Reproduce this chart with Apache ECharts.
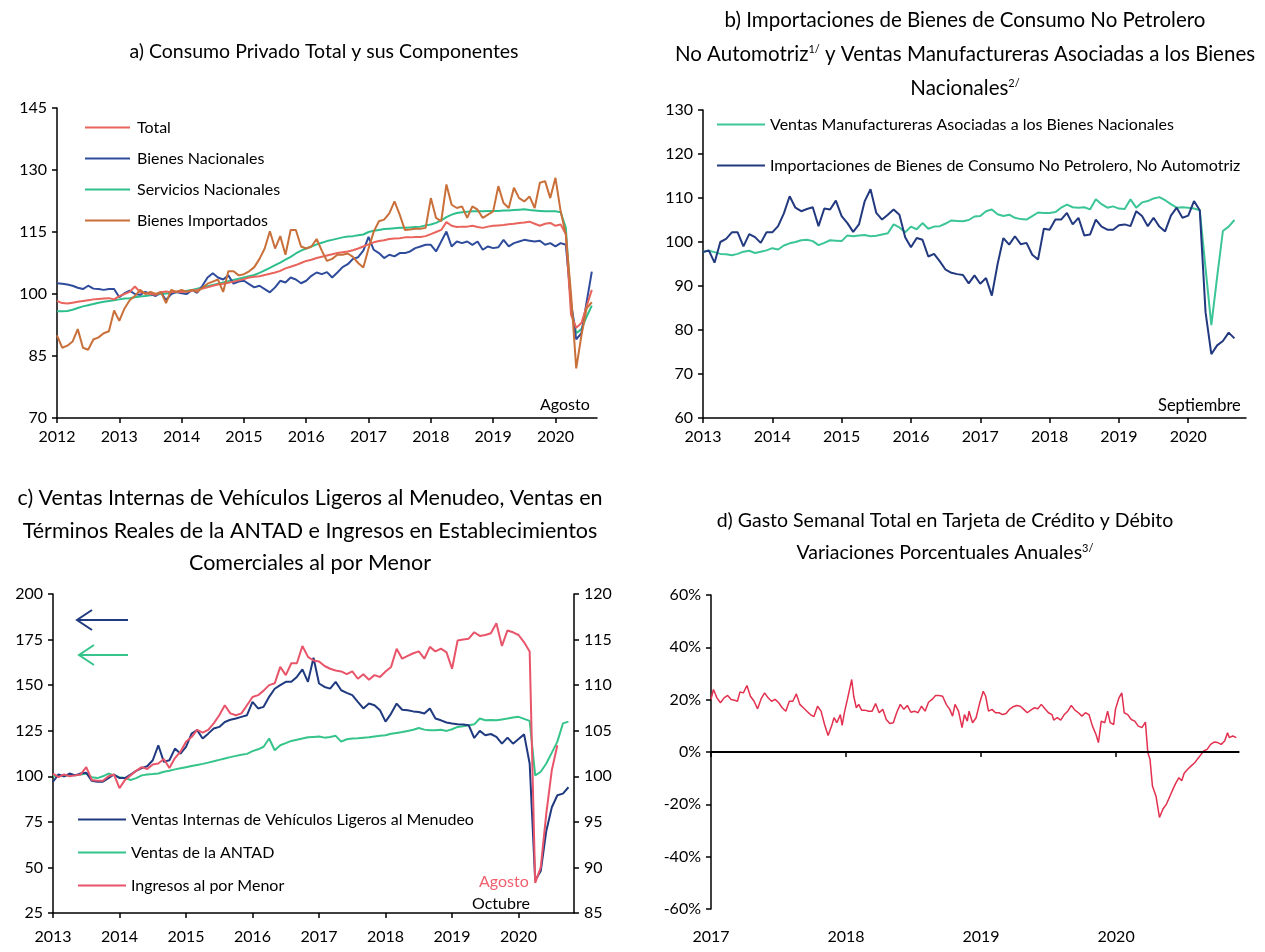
<!DOCTYPE html>
<html>
<head>
<meta charset="UTF-8">
<title>Consumo privado</title>
<script src="https://cdn.jsdelivr.net/npm/echarts@6.0.0/dist/echarts.min.js"></script>
<style>html,body{margin:0;background:#fff;}</style>
</head>
<body>
<div id="chart" style="width:1265px;height:952px;"></div>
<script>
var FONT = 'Lato, "Liberation Sans", sans-serif';

// etiquetas mensuales 'AAAA-MM'
function meses(a0, a1, mFin) {
  var out = [];
  for (var a = a0; a <= a1; a++) {
    for (var m = 1; m <= 12; m++) {
      if (a === a1 && m > mFin) break;
      out.push(a + '-' + (m < 10 ? '0' + m : m));
    }
  }
  return out;
}
var mesesA = meses(2012, 2020, 9);
var mesesB = meses(2013, 2020, 11);
var mesesC = meses(2013, 2020, 11);

// a) Consumo privado, ene 2012 - ago 2020
var total = [
  98.3, 97.8, 97.7, 97.9, 98.1, 98.3, 98.5, 98.7, 98.8, 98.9, 99.0, 98.7,
  99.5, 100.0, 100.5, 101.8, 100.5, 100.2, 100.0, 99.8, 100.4, 100.6, 100.4, 100.6,
  100.5, 100.6, 100.8, 101.0, 101.3, 101.6, 102.0, 102.3, 102.5, 102.7, 103.0, 103.3,
  103.6, 104.0, 104.2, 104.3, 104.6, 104.9, 105.2, 105.6, 106.2, 106.6, 107.0, 107.5,
  108.0, 108.3, 108.7, 109.0, 109.3, 109.6, 109.9, 110.1, 110.3, 110.6, 111.0, 111.5,
  112.0, 112.5, 112.8, 113.0, 113.3, 113.4, 113.5, 113.7, 113.7, 113.8, 113.8, 114.0,
  114.5, 115.0, 115.5, 117.4, 116.5, 116.2, 116.3, 116.3, 116.5, 116.2, 116.0, 116.3,
  116.5, 116.6, 116.7, 116.9, 117.0, 117.2, 117.3, 117.5, 117.0, 116.5, 117.0, 117.2,
  116.5, 116.8, 114.5, 95.0, 91.8, 93.0, 97.0, 101.0
];
var bienesNac = [
  102.6, 102.5, 102.3, 102.0, 101.5, 101.2, 102.0, 101.3, 101.2, 101.0, 101.2, 101.2,
  99.2, 100.2, 100.8, 100.0, 99.8, 100.5, 100.0, 99.5, 100.5, 98.5, 100.0, 100.5,
  100.2, 100.0, 101.0, 100.3, 102.0, 104.0, 105.0, 104.0, 103.5, 104.5, 102.5, 103.0,
  103.2, 102.4, 101.6, 102.0, 101.2, 100.4, 101.6, 103.2, 102.8, 104.0, 103.5, 102.6,
  103.2, 104.4, 105.2, 104.8, 105.3, 104.0, 105.2, 106.5, 107.2, 108.5, 108.9, 110.5,
  113.8, 110.7, 109.9, 108.7, 109.5, 109.1, 109.9, 109.9, 110.3, 111.1, 111.5, 111.9,
  111.9, 110.3, 112.7, 115.1, 111.5, 112.7, 112.3, 112.7, 111.9, 112.7, 110.7, 111.5,
  111.1, 111.3, 113.1, 111.5, 112.3, 112.7, 113.1, 112.9, 112.7, 112.9, 111.9, 112.3,
  111.5, 112.3, 111.9, 98.0, 89.0, 90.5, 98.0, 105.4
];
var serviciosNac = [
  95.8, 95.8, 95.9, 96.2, 96.6, 97.0, 97.3, 97.6, 97.9, 98.1, 98.3, 98.5,
  98.7, 98.9, 99.0, 99.2, 99.4, 99.5, 99.7, 99.8, 100.0, 100.1, 100.2, 100.4,
  100.6, 100.8, 101.0, 101.3, 101.6, 101.9, 102.2, 102.5, 102.8, 103.1, 103.4, 103.7,
  104.0, 104.3, 104.6, 105.1, 105.7, 106.3, 107.0, 107.6, 108.3, 109.0, 109.8, 110.5,
  111.0, 111.5, 112.0, 112.4, 112.8, 113.1, 113.4, 113.7, 113.9, 114.0, 114.2, 114.4,
  115.0, 115.3, 115.5, 115.7, 115.8, 115.9, 116.0, 116.0, 116.1, 116.2, 116.3, 116.6,
  116.8, 117.2, 117.8, 118.6, 119.2, 119.6, 119.8, 119.9, 120.0, 120.0, 120.0, 120.1,
  120.1, 120.1, 120.2, 120.2, 120.3, 120.4, 120.5, 120.3, 120.2, 120.1, 120.0, 120.0,
  120.0, 119.8, 116.0, 97.0, 90.5, 91.5, 94.5, 97.2
];
var bienesImp = [
  90.0, 87.0, 87.5, 88.5, 91.5, 87.0, 86.5, 89.0, 89.5, 90.5, 91.0, 96.0,
  93.5, 96.5, 98.5, 99.5, 101.0, 100.0, 100.5, 100.0, 100.5, 97.8, 101.0, 100.5,
  101.0, 100.5, 101.0, 100.5, 101.5, 102.5, 103.0, 103.5, 100.5, 105.5, 105.5, 104.5,
  104.8, 105.5, 106.5, 108.5, 111.0, 115.2, 111.0, 114.0, 109.5, 115.5, 115.5, 111.5,
  111.0, 111.5, 113.3, 110.5, 108.0, 108.5, 109.5, 109.5, 109.8, 109.0, 107.5, 106.4,
  111.0, 115.1, 117.6, 118.0, 119.5, 122.4, 119.2, 115.5, 115.6, 115.8, 115.8, 116.0,
  123.2, 118.4, 117.6, 126.5, 121.6, 120.8, 121.2, 118.4, 121.2, 120.4, 118.4, 119.2,
  120.0, 126.1, 122.0, 120.8, 125.7, 123.2, 122.4, 123.6, 120.8, 126.9, 127.3, 123.2,
  128.1, 120.0, 114.3, 100.0, 82.0, 90.0, 96.5, 98.0
];

// b) ene 2013 - sep 2020
var ventasManuf = [
  97.8, 98.0, 97.7, 97.3, 97.2, 97.0, 97.3, 97.8, 98.0, 97.5, 97.8, 98.1,
  98.6, 98.3, 99.2, 99.7, 100.0, 100.4, 100.5, 100.2, 99.3, 99.8, 100.4, 100.3,
  100.2, 101.5, 101.3, 101.5, 101.6, 101.3, 101.4, 101.7, 102.0, 104.0, 103.3, 102.2,
  103.5, 102.9, 104.3, 103.0, 103.5, 103.6, 104.2, 104.9, 104.8, 104.7, 105.0, 105.8,
  105.9, 107.0, 107.4, 106.3, 105.9, 106.2, 105.5, 105.2, 105.1, 105.9, 106.7, 106.6,
  106.6, 106.8, 107.8, 108.5, 107.9, 107.8, 107.9, 107.4, 109.7, 108.6, 107.8, 108.1,
  107.6, 107.5, 109.7, 107.8, 109.0, 109.3, 109.9, 110.2, 109.5, 108.6, 107.8, 107.9,
  107.8, 107.6, 107.2, 94.0, 81.1, 92.0, 102.5, 103.5, 105.0
];
var importaciones = [
  97.7, 98.1, 95.3, 100.0, 100.7, 102.2, 102.2, 99.0, 101.8, 101.1, 99.8, 102.2,
  102.2, 103.6, 106.5, 110.4, 107.8, 107.0, 107.5, 107.9, 103.6, 107.6, 107.4, 109.4,
  105.9, 104.3, 102.3, 104.0, 109.3, 112.0, 106.6, 105.1, 106.2, 107.4, 106.2, 101.1,
  98.8, 100.9, 100.5, 96.7, 97.3, 95.6, 93.7, 93.0, 92.7, 92.5, 90.6, 92.4,
  90.5, 91.8, 87.8, 95.0, 100.9, 99.4, 101.3, 99.5, 99.8, 97.1, 96.0, 103.0,
  102.8, 105.1, 105.1, 106.6, 104.0, 105.5, 101.5, 101.7, 105.1, 103.5, 102.8, 102.8,
  103.8, 104.0, 103.6, 107.0, 105.9, 103.6, 105.5, 103.5, 102.4, 106.0, 107.8, 105.5,
  106.0, 109.3, 107.2, 84.0, 74.5, 76.5, 77.5, 79.4, 78.1
];

// c) ene 2013 - oct 2020 (ingresos hasta ago 2020, eje derecho)
var vehiculos = [
  97.0, 101.0, 100.0, 101.5, 100.5, 101.5, 102.0, 97.5, 97.0, 97.0, 99.0, 101.0,
  99.0, 99.0, 101.0, 103.0, 104.5, 105.5, 108.8, 117.0, 107.9, 108.8, 115.2, 112.4,
  116.1, 123.4, 125.3, 120.7, 123.4, 126.2, 127.1, 129.8, 131.0, 131.7, 132.6, 133.5,
  140.8, 137.2, 138.1, 143.6, 148.0, 150.0, 151.8, 151.8, 154.5, 158.6, 151.8, 165.0,
  150.9, 149.0, 148.1, 151.8, 147.2, 145.8, 144.5, 140.8, 137.2, 139.9, 139.0, 136.2,
  130.0, 134.4, 139.9, 136.5, 136.2, 135.6, 135.3, 134.4, 137.2, 131.7, 130.7, 129.5,
  128.9, 128.6, 128.4, 128.0, 121.0, 124.9, 122.5, 123.2, 121.6, 117.9, 121.2, 117.9,
  120.5, 123.0, 107.0, 42.9, 48.0, 70.0, 83.0, 89.6, 90.5, 94.0
];
var antad = [
  100.0, 100.5, 100.0, 101.0, 100.5, 101.0, 101.5, 99.5, 99.0, 100.0, 101.5, 100.5,
  99.5, 99.0, 98.0, 99.0, 100.5, 101.0, 101.2, 101.5, 102.5, 103.0, 103.8, 104.4,
  105.0, 105.6, 106.2, 106.8, 107.5, 108.2, 109.0, 109.8, 110.5, 111.2, 111.8, 112.3,
  113.8, 114.8, 116.2, 120.7, 114.3, 117.0, 118.2, 119.4, 120.0, 120.7, 121.4, 121.6,
  121.8, 121.2, 121.6, 122.2, 119.0, 120.3, 120.7, 120.9, 121.2, 121.4, 121.8, 122.2,
  122.5, 123.3, 123.8, 124.3, 124.9, 125.5, 126.5, 125.6, 125.3, 125.3, 125.5, 124.9,
  125.8, 127.1, 127.5, 128.0, 128.5, 131.7, 130.7, 130.9, 130.7, 131.2, 131.7, 132.3,
  132.6, 131.5, 130.4, 100.5, 102.5, 107.0, 113.0, 119.0, 129.0, 130.0
];
var ingresos = [
  100.3, 99.9, 100.2, 100.0, 100.1, 100.2, 101.0, 99.6, 99.5, 99.5, 100.0, 100.2,
  98.7, 99.6, 100.1, 100.6, 101.0, 100.8, 101.3, 101.4, 101.9, 100.9, 102.0, 102.7,
  103.8, 104.3, 105.1, 104.8, 105.1, 105.8, 106.7, 107.8, 106.9, 106.7, 106.9, 107.8,
  108.7, 108.9, 109.4, 110.0, 110.2, 112.0, 111.1, 112.4, 112.4, 114.3, 113.1, 112.7,
  112.6, 112.1, 111.8, 111.6, 111.5, 111.2, 111.5, 110.7, 111.2, 110.6, 111.1, 110.9,
  111.5, 112.0, 114.0, 112.9, 113.2, 113.5, 113.7, 112.9, 114.2, 113.7, 114.0, 113.6,
  111.8, 114.9, 115.0, 115.1, 115.8, 115.4, 115.5, 115.7, 116.8, 114.3, 116.0, 115.8,
  115.5, 114.7, 113.7, 88.3, 90.0, 95.9, 100.7, 103.4
];

// d) gasto semanal, fecha en años decimales y variación anual (%)
var gastoFecha = [
  2017.000, 2017.018, 2017.044, 2017.070, 2017.097, 2017.123, 2017.149, 2017.175, 2017.196, 2017.214,
  2017.240, 2017.266, 2017.292, 2017.319, 2017.345, 2017.371, 2017.397, 2017.423, 2017.449, 2017.475,
  2017.501, 2017.527, 2017.554, 2017.580, 2017.606, 2017.632, 2017.658, 2017.684, 2017.710, 2017.736,
  2017.762, 2017.789, 2017.815, 2017.841, 2017.867, 2017.893, 2017.911, 2017.932, 2017.958, 2017.971,
  2017.990, 2018.010, 2018.031, 2018.042, 2018.057, 2018.076, 2018.094, 2018.115, 2018.141, 2018.167,
  2018.193, 2018.219, 2018.245, 2018.272, 2018.298, 2018.324, 2018.350, 2018.376, 2018.402, 2018.428,
  2018.454, 2018.480, 2018.507, 2018.533, 2018.559, 2018.585, 2018.611, 2018.637, 2018.663, 2018.689,
  2018.715, 2018.742, 2018.768, 2018.789, 2018.807, 2018.833, 2018.859, 2018.877, 2018.898, 2018.911,
  2018.937, 2018.963, 2018.990, 2019.016, 2019.034, 2019.055, 2019.081, 2019.107, 2019.133, 2019.159,
  2019.185, 2019.211, 2019.238, 2019.264, 2019.290, 2019.316, 2019.342, 2019.368, 2019.394, 2019.420,
  2019.446, 2019.473, 2019.499, 2019.525, 2019.538, 2019.564, 2019.590, 2019.616, 2019.642, 2019.668,
  2019.695, 2019.721, 2019.747, 2019.773, 2019.799, 2019.825, 2019.851, 2019.869, 2019.890, 2019.916,
  2019.937, 2019.956, 2019.982, 2019.995, 2020.021, 2020.042, 2020.060, 2020.086, 2020.112, 2020.138,
  2020.164, 2020.191, 2020.217, 2020.235, 2020.251, 2020.269, 2020.295, 2020.321, 2020.347, 2020.373,
  2020.399, 2020.426, 2020.444, 2020.465, 2020.486, 2020.504, 2020.530, 2020.556, 2020.582, 2020.601,
  2020.621, 2020.648, 2020.674, 2020.700, 2020.726, 2020.752, 2020.778, 2020.804, 2020.825, 2020.838,
  2020.864, 2020.890
];
var gastoVar = [
  20.1, 23.9, 20.7, 18.8, 20.7, 21.6, 20.1, 19.8, 19.4, 22.9,
  22.6, 25.4, 21.3, 19.4, 16.5, 20.3, 22.6, 20.7, 19.4, 20.1,
  18.8, 16.9, 15.6, 19.4, 19.4, 22.2, 18.2, 16.9, 15.6, 14.3,
  13.5, 17.5, 15.6, 10.5, 6.3, 9.9, 13.1, 11.2, 14.3, 10.2,
  15.6, 20.1, 25.1, 27.7, 21.3, 16.9, 18.2, 16.0, 16.0, 15.6,
  15.6, 18.5, 15.0, 16.3, 12.4, 10.9, 11.2, 15.2, 18.2, 16.3,
  17.8, 15.2, 15.6, 15.0, 17.5, 15.6, 19.0, 20.1, 21.6, 21.6,
  21.3, 18.2, 16.3, 13.7, 18.2, 15.6, 9.3, 14.3, 11.8, 15.6,
  11.2, 13.1, 18.8, 23.2, 21.3, 15.6, 16.3, 15.0, 15.0, 14.3,
  14.7, 16.3, 17.3, 17.8, 17.5, 16.3, 15.0, 16.0, 16.9, 16.5,
  18.2, 16.5, 15.0, 14.3, 12.2, 13.1, 12.2, 14.3, 15.6, 17.8,
  16.0, 15.0, 13.7, 15.0, 14.3, 9.9, 6.7, 3.6, 11.8, 11.2,
  15.6, 11.2, 10.5, 16.3, 20.7, 22.6, 15.0, 14.3, 12.4, 11.8,
  9.9, 9.3, 11.4, -0.3, -2.8, -13.0, -16.8, -25.0, -21.8, -19.9,
  -16.8, -13.6, -11.7, -9.8, -11.0, -8.1, -6.6, -5.3, -4.1, -2.8,
  -1.5, 0.4, 1.0, 2.9, 3.8, 3.6, 2.9, 4.2, 7.4, 5.5,
  6.1, 5.5
];

var chart = echarts.init(document.getElementById('chart'));

var negro = '#000';
var eje = {lineStyle: {color: negro, width: 1.5}};
var tick = {length: 5, lineStyle: {color: negro, width: 1.5}};
var etiqueta = {color: negro, fontSize: 16, fontFamily: FONT, margin: 10};

function enero(i, v) { return v.slice(5) === '01'; }

function ejeX(grid, cats, margen) {
  return {
    type: 'category', gridIndex: grid, data: cats, boundaryGap: false,
    axisLine: eje,
    axisTick: Object.assign({}, tick, {interval: enero}),
    axisLabel: Object.assign({}, etiqueta, {margin: margen, interval: enero, formatter: function (v) { return v.slice(0, 4); }}),
    splitLine: {show: false}
  };
}
function ejeY(grid, min, max, step, valores, pos) {
  return {
    type: 'value', gridIndex: grid, min: min, max: max, interval: step,
    position: pos || 'left',
    axisLine: Object.assign({show: true}, eje),
    axisTick: Object.assign({show: true, customValues: valores}, tick),
    axisLabel: Object.assign({customValues: valores}, etiqueta),
    splitLine: {show: false}
  };
}
function linea(nombre, xi, yi, datos, color, ancho) {
  return {
    name: nombre, type: 'line', xAxisIndex: xi, yAxisIndex: yi, data: datos,
    symbol: 'none', color: color, lineStyle: {color: color, width: ancho || 2},
    z: 3
  };
}
function leyenda(nombres, left, top, ancho, gap, pad) {
  return {
    data: nombres, orient: 'vertical', left: left, top: top,
    itemWidth: ancho, itemHeight: 2, itemGap: gap, icon: 'rect',
    selectedMode: false,
    textStyle: {color: negro, fontSize: 16, fontFamily: FONT, lineHeight: 17, padding: [0, 0, 0, pad]}
  };
}
function texto(x, y, t, extra) {
  return {
    type: 'text', x: x, y: y, silent: true,
    style: Object.assign({text: t, fill: negro, fontSize: 16, fontFamily: FONT}, extra || {})
  };
}
var sup = {s: {fontSize: 11, fontFamily: FONT, padding: [0, 0, 10, 0]}};
function titulo(x, y, t, lh, tam) {
  return texto(x, y, t, {fontSize: tam, align: 'center', verticalAlign: 'top', lineHeight: lh, rich: sup});
}

var option = {
  animation: false,
  backgroundColor: '#fff',
  grid: [
    {left: 57, top: 108, width: 540, height: 310},
    {left: 703, top: 110, width: 543, height: 308},
    {left: 53, top: 594, width: 521, height: 319},
    {left: 711, top: 595, width: 528, height: 314}
  ],
  xAxis: [
    ejeX(0, mesesA, 11),
    ejeX(1, mesesB, 11),
    ejeX(2, mesesC, 16),
    {
      type: 'value', gridIndex: 3, min: 2017, max: 2020.91,
      axisLine: eje,
      axisTick: Object.assign({customValues: [2017, 2018, 2019, 2020]}, tick),
      axisLabel: Object.assign({}, etiqueta, {margin: 20, customValues: [2017, 2018, 2019, 2020], formatter: function (v) { return String(v); }}),
      splitLine: {show: false}
    }
  ],
  yAxis: [
    ejeY(0, 70, 145, 15, [70, 85, 100, 115, 130, 145]),
    ejeY(1, 60, 130, 10, [60, 70, 80, 90, 100, 110, 120, 130]),
    ejeY(2, 25, 200, 25, [25, 50, 75, 100, 125, 150, 175, 200]),
    ejeY(2, 85, 120, 5, [85, 90, 95, 100, 105, 110, 115, 120], 'right'),
    (function () {
      var y = ejeY(3, -60, 60, 20, [-60, -40, -20, 0, 20, 40, 60]);
      y.axisLabel.formatter = '{value}%';
      return y;
    })()
  ],
  legend: [
    leyenda(['Total', 'Bienes Nacionales', 'Servicios Nacionales', 'Bienes Importados'], 80, 114, 45, 14, 2),
    leyenda(['Ventas Manufactureras Asociadas a los Bienes Nacionales', 'Importaciones de Bienes de Consumo No Petrolero, No Automotriz'], 712, 111, 48, 24, 0),
    leyenda(['Ventas Internas de Vehículos Ligeros al Menudeo', 'Ventas de la ANTAD', 'Ingresos al por Menor'], 73, 806, 48, 16, 0)
  ],
  series: [
    linea('Servicios Nacionales', 0, 0, serviciosNac, '#2fbf8c'),
    linea('Bienes Nacionales', 0, 0, bienesNac, '#2f4c9c'),
    linea('Total', 0, 0, total, '#e8645c'),
    linea('Bienes Importados', 0, 0, bienesImp, '#c9703a'),

    linea('Ventas Manufactureras Asociadas a los Bienes Nacionales', 1, 1, ventasManuf, '#3cc596'),
    linea('Importaciones de Bienes de Consumo No Petrolero, No Automotriz', 1, 1, importaciones, '#22397f'),

    linea('Ventas de la ANTAD', 2, 2, antad, '#35c48a'),
    linea('Ventas Internas de Vehículos Ligeros al Menudeo', 2, 2, vehiculos, '#203a80'),
    linea('Ingresos al por Menor', 2, 3, ingresos, '#e8556a'),

    (function () {
      var s = linea('Gasto semanal', 3, 4, gastoFecha.map(function (f, i) { return [f, gastoVar[i]]; }), '#e2304f', 1.5);
      s.markLine = {
        silent: true, symbol: ['none', 'none'], label: {show: false},
        lineStyle: {color: negro, width: 2, type: 'solid'},
        data: [{yAxis: 0}]
      };
      return s;
    })()
  ],
  graphic: [
    titulo(324, 37, 'a) Consumo Privado Total y sus Componentes', 30, 19.5),
    titulo(965, 3, 'b) Importaciones de Bienes de Consumo No Petrolero\nNo Automotriz{s|1/} y Ventas Manufactureras Asociadas a los Bienes\nNacionales{s|2/}', 34, 20.5),
    titulo(310, 482, 'c) Ventas Internas de Vehículos Ligeros al Menudeo, Ventas en\nTérminos Reales de la ANTAD e Ingresos en Establecimientos\nComerciales al por Menor', 32.5, 21.5),
    titulo(945, 505, 'd) Gasto Semanal Total en Tarjeta de Crédito y Débito\nVariaciones Porcentuales Anuales{s|3/}', 32, 19.5),
    texto(540, 397, 'Agosto'),
    texto(1158, 397, 'Septiembre', {fontSize: 16.5}),
    texto(479, 874, 'Agosto', {fill: '#f0606e'}),
    texto(472, 896, 'Octubre'),
    {type: 'polyline', silent: true, shape: {points: [[128, 620], [77, 620]]}, style: {stroke: '#203a80', lineWidth: 2, fill: null}},
    {type: 'polyline', silent: true, shape: {points: [[92, 610], [77, 620], [92, 630]]}, style: {stroke: '#203a80', lineWidth: 2, fill: null}},
    {type: 'polyline', silent: true, shape: {points: [[128, 655], [79, 655]]}, style: {stroke: '#35c48a', lineWidth: 2, fill: null}},
    {type: 'polyline', silent: true, shape: {points: [[94, 645], [79, 655], [94, 665]]}, style: {stroke: '#35c48a', lineWidth: 2, fill: null}}
  ]
};
chart.setOption(option);
</script>
</body>
</html>
